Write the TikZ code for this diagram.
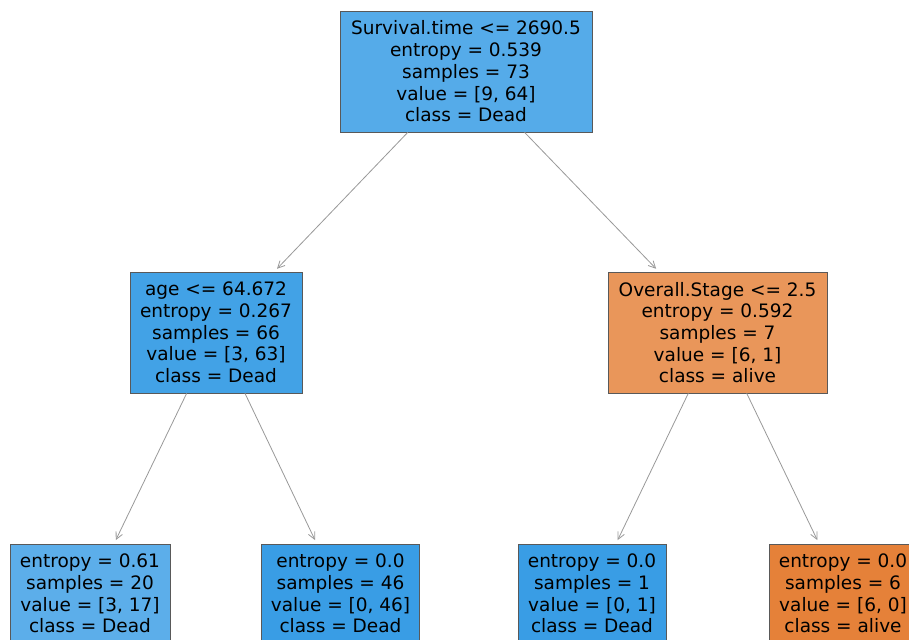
\documentclass[tikz,border=0pt]{standalone}
\usepackage{fontspec}
\setmainfont{DejaVu Sans}
\usetikzlibrary{arrows.meta}

\definecolor{rootblue}{RGB}{85,171,233}
\definecolor{ageblue}{RGB}{66,162,230}
\definecolor{leafblue}{RGB}{92,174,234}
\definecolor{deadblue}{RGB}{57,157,229}
\definecolor{stageorange}{RGB}{233,150,90}
\definecolor{aliveorange}{RGB}{229,129,57}

\begin{document}
\begin{tikzpicture}[x=1pt, y=-1pt]
    \tikzset{every node/.append style={draw=black!65, line width=0.7pt, align=center,
        inner xsep=2pt, font=\fontsize{18.5}{21.7}\selectfont}}
    \tikzset{split/.style={minimum height=121pt},
             leaf/.style={minimum height=99pt}}
    \clip (0,0) rectangle (909,639);
    \fill[white] (0,0) rectangle (909,639);
    \node[split, fill=rootblue, minimum width=252pt] (survival) at (466, 71.5)
        {Survival.time <= 2690.5\\entropy = 0.539\\samples = 73\\value = [9, 64]\\class = Dead};
    \node[split, fill=ageblue, minimum width=172pt] (age) at (216, 332.5)
        {age <= 64.672\\entropy = 0.267\\samples = 66\\value = [3, 63]\\class = Dead};
    \node[split, fill=stageorange, minimum width=219pt] (stage) at (717.5, 332.5)
        {Overall.Stage <= 2.5\\entropy = 0.592\\samples = 7\\value = [6, 1]\\class = alive};
    \node[leaf, fill=leafblue, minimum width=160pt] (young) at (90, 593.5)
        {entropy = 0.61\\samples = 20\\value = [3, 17]\\class = Dead};
    \node[leaf, fill=deadblue, minimum width=158pt] (old) at (340.5, 593.5)
        {entropy = 0.0\\samples = 46\\value = [0, 46]\\class = Dead};
    \node[leaf, fill=deadblue, minimum width=148pt] (early) at (592, 593.5)
        {entropy = 0.0\\samples = 1\\value = [0, 1]\\class = Dead};
    \node[leaf, fill=aliveorange, minimum width=148pt] (late) at (843, 593.5)
        {entropy = 0.0\\samples = 6\\value = [6, 0]\\class = alive};
    \path[->, >={Straight Barb[length=7pt, width=7pt]}, draw=black!40, line width=0.8pt,
          shorten >=4pt]
        (survival) edge (age)
        (survival) edge (stage)
        (age)      edge (young)
        (age)      edge (old)
        (stage)    edge (early)
        (stage)    edge (late);
\end{tikzpicture}
\end{document}
